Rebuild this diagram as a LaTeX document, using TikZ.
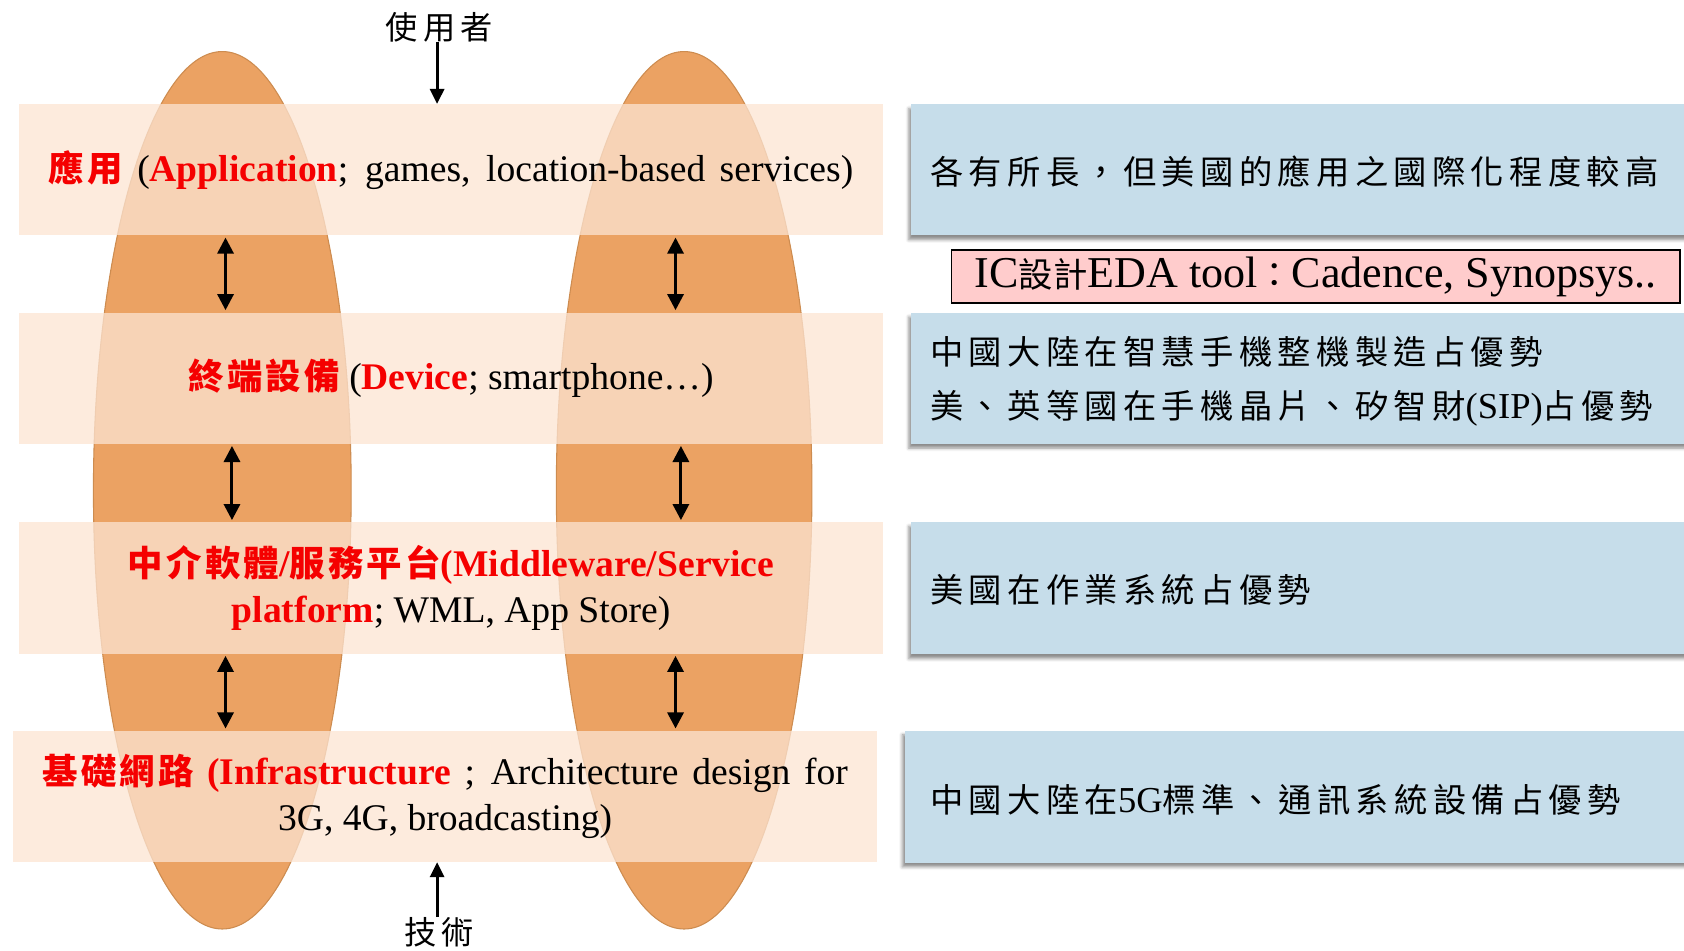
\documentclass[tikz,border=0pt]{standalone}
\usepackage{fontspec}
\setmainfont{Liberation Serif}
\newfontfamily\cjk{Noto Sans CJK TC}
\newfontfamily\cjksp{Noto Sans CJK TC}[LetterSpace=16]
\newfontfamily\cjkbsp{Noto Sans CJK TC}[LetterSpace=9]
\usetikzlibrary{arrows.meta,shadows.blur}
\definecolor{ellor}{RGB}{235,162,99}
\definecolor{elledge}{RGB}{205,140,80}
\definecolor{bandc}{RGB}{252,228,210}
\definecolor{bluec}{RGB}{198,221,234}
\definecolor{pinkc}{RGB}{255,204,204}
\definecolor{redtxt}{RGB}{245,0,0}
\newcommand{\rz}[1]{{\color{redtxt}\cjkbsp\bfseries\fontsize{33}{43}\selectfont #1}}
\newcommand{\rl}[1]{{\color{redtxt}\bfseries #1}}
\newcommand{\rcj}[1]{{\cjksp\fontsize{31}{36}\selectfont #1}}
\newcommand{\rlat}[1]{{\fontsize{34}{36}\selectfont #1}}
\begin{document}
\begin{tikzpicture}[x=1pt,y=-1pt,
  ell/.style={fill=ellor,draw=elledge,line width=1pt},
  band/.style={fill=bandc,fill opacity=.75,text opacity=1,inner sep=0pt,
    minimum height=122,align=center,font=\fontsize{35}{43}\selectfont},
  bluebox/.style={fill=bluec,anchor=north west,minimum width=760,minimum height=122,inner sep=0pt,
    blur shadow={shadow xshift=-2pt,shadow yshift=-4pt,shadow blur radius=3pt,shadow opacity=45}},
  rtext/.style={anchor=west,inner sep=0pt,align=left},
  arr/.style={line width=2.8pt,-{Triangle[length=14pt,width=13pt]}},
  darr/.style={line width=2.8pt,{Triangle[length=15pt,width=15pt]}-{Triangle[length=15pt,width=15pt]},shorten >=2pt,shorten <=2pt},
  lbl/.style={inner sep=0pt,font=\cjksp\fontsize{30}{34}\selectfont}]
\useasboundingbox (0,0) rectangle (1568,885);
% columns (ellipses)
\path[ell] (207,456.5) ellipse [x radius=120, y radius=408.5];
\path[ell] (637,456.5) ellipse [x radius=119, y radius=408.5];
% layer bands
\node[band,minimum width=804] (b1) at (420,158)
  {\makebox[749pt][s]{\rz{應用} (\rl{Application}; games, location-based services)}};
\node[band,minimum width=804] (b2) at (420,352)
  {\rz{終端設備} (\rl{Device}; smartphone…)};
\node[band,minimum width=804] (b3) at (420,547.5)
  {\rz{中介軟體}\rl{/}\rz{服務平台}\rl{(Middleware/Service}\\\rl{platform}; WML, App Store)};
\node[band,minimum width=805] (b4) at (414.5,741.5)
  {\makebox[750pt][s]{\rz{基礎網路} \rl{(Infrastructure} ; Architecture design for}\\3G, 4G, broadcasting)};
% user / technology
\node[lbl] (user) at (409,25) {使用者};
\node[lbl] (tech) at (409,868) {技術};
\coordinate (ax) at (407,0);
\draw[arr] (user.south -| ax) -- (b1.north -| ax);
\draw[arr] (tech.north -| ax) -- (b4.south -| ax);
% double arrows
\coordinate (l1) at (210,0);
\coordinate (r1) at (629,0);
\coordinate (l2) at (216,0);
\coordinate (r2) at (634,0);
\draw[darr] (b1.south -| l1) -- (b2.north -| l1);
\draw[darr] (b1.south -| r1) -- (b2.north -| r1);
\draw[darr] (b2.south -| l2) -- (b3.north -| l2);
\draw[darr] (b2.south -| r2) -- (b3.north -| r2);
\draw[darr] (b3.south -| l1) -- (b4.north -| l1);
\draw[darr] (b3.south -| r1) -- (b4.north -| r1);
% right boxes
\node[bluebox] (c1) at (848,97) {};
\node[bluebox] (c2) at (848,291) {};
\node[bluebox,minimum height=123] (c3) at (848,486) {};
\node[bluebox,minimum height=123,minimum width=766] (c4) at (842,680) {};
\node[rtext] (t1) at (866,160) {\rcj{各有所長，但美國的應用之國際化程度較高}};
\node[rtext] (t2) at (866,328) {\rcj{中國大陸在智慧手機整機製造占優勢}};
\node[rtext] (t2b) at (866,380) {\rcj{美、英等國在手機晶片、矽智財}\rlat{(SIP)}\rcj{占優勢}};
\node[rtext] (t3) at (866,549) {\rcj{美國在作業系統占優勢}};
\node[rtext] (t4) at (866,745) {\rcj{中國大陸在}\rlat{5G}\rcj{標準、通訊系統設備占優勢}};
% EDA note
\node[draw=black,line width=1.5pt,fill=pinkc,minimum width=678,minimum height=49,inner sep=0pt,
  font=\fontsize{41}{44}\selectfont] (eda) at (1225,257.5)
  {IC{\cjk\fontsize{32}{36}\selectfont 設計}EDA tool{\cjk\fontsize{32}{36}\selectfont ：}Cadence, Synopsys..};
\end{tikzpicture}
\end{document}
